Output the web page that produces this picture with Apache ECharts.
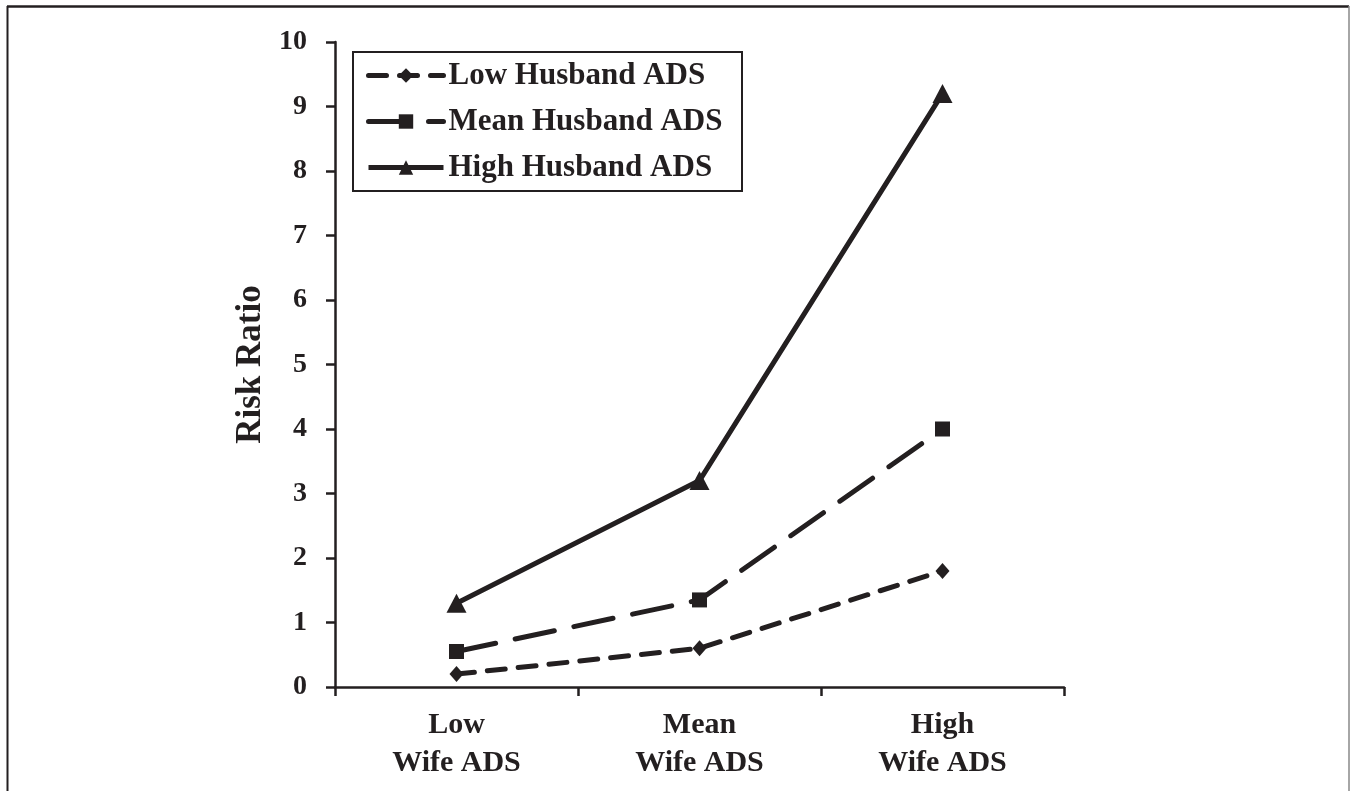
<!DOCTYPE html>
<html>
<head>
<meta charset="utf-8">
<script src="https://cdn.jsdelivr.net/npm/echarts@6/dist/echarts.min.js"></script>
<style>
html,body{margin:0;padding:0;background:#fff;}
#c{width:1350px;height:791px;}
</style>
</head>
<body>
<div id="c"></div>
<script>
var categories = ['Low\nWife ADS', 'Mean\nWife ADS', 'High\nWife ADS'];
var seriesNames = ['Low Husband ADS', 'Mean Husband ADS', 'High Husband ADS'];
var lowHusband = [0.2, 0.6, 1.8];
var meanHusband = [0.55, 1.35, 4.0];
var highHusband = [1.3, 3.2, 9.2];
var yTicks = [0, 1, 2, 3, 4, 5, 6, 7, 8, 9, 10];

var INK = '#231f20';
var FONT = '"Liberation Serif", "Times New Roman", serif';

var chart = echarts.init(document.getElementById('c'), null, {renderer: 'canvas'});
chart.setOption({
  backgroundColor: '#ffffff',
  animation: false,
  grid: {left: 335, right: 286, top: 42, bottom: 104, containLabel: false},
  graphic: [
    {type: 'line', shape: {x1: 7, y1: 6.5, x2: 1349, y2: 6.5}, style: {stroke: INK, lineWidth: 2.5}, z: 100},
    {type: 'line', shape: {x1: 7.5, y1: 6, x2: 7.5, y2: 791}, style: {stroke: INK, lineWidth: 2}, z: 100},
    {type: 'line', shape: {x1: 1349, y1: 6, x2: 1349, y2: 791}, style: {stroke: '#888888', lineWidth: 1.5}, z: 100},
    {type: 'rect', shape: {x: 353, y: 52, width: 389, height: 139}, style: {fill: '#ffffff', stroke: INK, lineWidth: 2}, z: 1}
  ],
  legend: {
    orient: 'vertical',
    left: 366,
    top: 60,
    padding: 0,
    itemWidth: 75,
    itemHeight: 18,
    itemGap: 15,
    data: [
      {name: seriesNames[0], lineStyle: {width: 5, type: [18, 13]}},
      {name: seriesNames[1], lineStyle: {width: 5, type: [40, 20]}},
      {name: seriesNames[2], lineStyle: {width: 5, type: 'solid'}}
    ],
    lineStyle: {width: 5},
    textStyle: {fontFamily: FONT, fontWeight: 'bold', fontSize: 31, color: INK, lineHeight: 31},
    z: 5
  },
  xAxis: {
    type: 'category',
    data: categories,
    boundaryGap: true,
    axisLine: {lineStyle: {color: INK, width: 2.5}},
    axisTick: {show: true, length: 9, lineStyle: {color: INK, width: 2.5}},
    axisLabel: {fontFamily: FONT, fontWeight: 'bold', fontSize: 30, color: INK, lineHeight: 38, margin: 19},
    splitLine: {show: false}
  },
  yAxis: {
    type: 'value',
    min: yTicks[0],
    max: yTicks[yTicks.length - 1],
    interval: 1,
    name: 'Risk Ratio',
    nameLocation: 'middle',
    nameRotate: 90,
    nameGap: 56,
    nameTextStyle: {fontFamily: FONT, fontWeight: 'bold', fontSize: 35, color: INK},
    axisLine: {show: true, lineStyle: {color: INK, width: 2.5}},
    axisTick: {show: true, length: 9, lineStyle: {color: INK, width: 2.5}},
    axisLabel: {fontFamily: FONT, fontWeight: 'bold', fontSize: 28, color: INK, margin: 28},
    splitLine: {show: false}
  },
  series: [
    {
      name: seriesNames[0], type: 'line', data: lowHusband,
      symbol: 'diamond', symbolSize: [14, 16],
      lineStyle: {color: INK, width: 5, type: [18, 13], cap: 'round'},
      itemStyle: {color: INK},
      z: 3
    },
    {
      name: seriesNames[1], type: 'line', data: meanHusband,
      symbol: 'rect', symbolSize: 15,
      lineStyle: {color: INK, width: 5, type: [40, 20], cap: 'round'},
      itemStyle: {color: INK},
      z: 3
    },
    {
      name: seriesNames[2], type: 'line', data: highHusband,
      symbol: 'triangle', symbolSize: [20, 19],
      lineStyle: {color: INK, width: 5, type: 'solid'},
      itemStyle: {color: INK},
      z: 3
    }
  ]
});
</script>
</body>
</html>
